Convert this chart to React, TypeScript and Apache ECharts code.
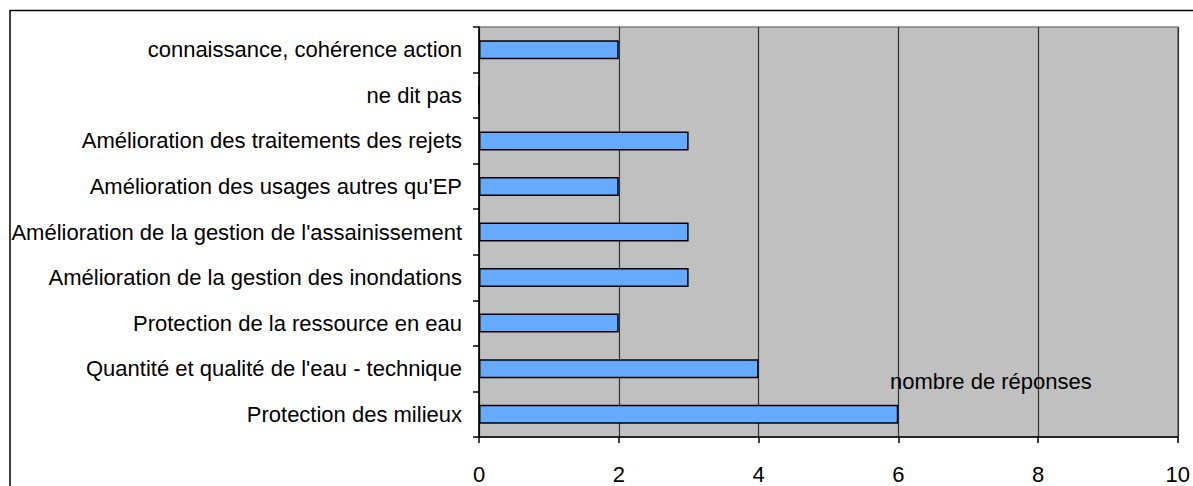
import React, { useEffect, useRef } from "react";
import * as echarts from "echarts";

const categories = [
  "Protection des milieux",
  "Quantité et qualité de l'eau - technique",
  "Protection de la ressource en eau",
  "Amélioration de la gestion des inondations",
  "Amélioration de la gestion de l'assainissement",
  "Amélioration des usages autres qu'EP",
  "Amélioration des traitements des rejets",
  "ne dit pas",
  "connaissance, cohérence action",
];
const responses = [6, 4, 2, 3, 3, 2, 3, 0, 2];
const seriesName = "nombre de réponses";

export default function App() {
  const ref = useRef<HTMLDivElement>(null);
  useEffect(() => {
    document.body.style.margin = "0";
    const chart = echarts.init(ref.current!, null, { renderer: "svg" });
    const font = "Liberation Sans";
    chart.setOption({
      animation: false,
      backgroundColor: "#ffffff",
      grid: {
        left: 479,
        right: 15,
        top: 27,
        bottom: 49,
        show: true,
        backgroundColor: "#c0c0c0",
        borderColor: "#808080",
        borderWidth: 1.5,
      },
      xAxis: {
        type: "value",
        min: 0,
        max: 10,
        interval: 2,
        axisLine: { show: true, lineStyle: { color: "#000", width: 1.5 } },
        axisTick: { show: true, length: 6, lineStyle: { color: "#000", width: 1.5 } },
        axisLabel: { color: "#000", fontFamily: font, fontSize: 22, margin: 26 },
        splitLine: { show: true, lineStyle: { color: "#333", width: 1.2 } },
      },
      yAxis: {
        type: "category",
        data: categories,
        axisLine: { show: true, lineStyle: { color: "#000", width: 1.5 } },
        axisTick: { show: true, length: 6, lineStyle: { color: "#000", width: 1.5 } },
        axisLabel: { color: "#000", fontFamily: font, fontSize: 22, margin: 17 },
        splitLine: { show: false },
      },
      series: [
        {
          name: seriesName,
          type: "bar",
          data: responses,
          barWidth: 19,
          itemStyle: { color: "#66aaff", borderColor: "#000", borderWidth: 1.5 },
        },
      ],
      graphic: [
        {
          type: "rect",
          shape: { x: 10, y: 10.5, width: 1300, height: 600 },
          style: { fill: "none", stroke: "#000", lineWidth: 1.5 },
          silent: true,
          z: 100,
        },
        {
          type: "text",
          left: 890,
          top: 370,
          style: { text: seriesName, fill: "#000", font: `22px "${font}"` },
          z: 100,
        },
      ],
    });
    return () => chart.dispose();
  }, []);
  return <div ref={ref} style={{ width: 1193, height: 486 }} />;
}
